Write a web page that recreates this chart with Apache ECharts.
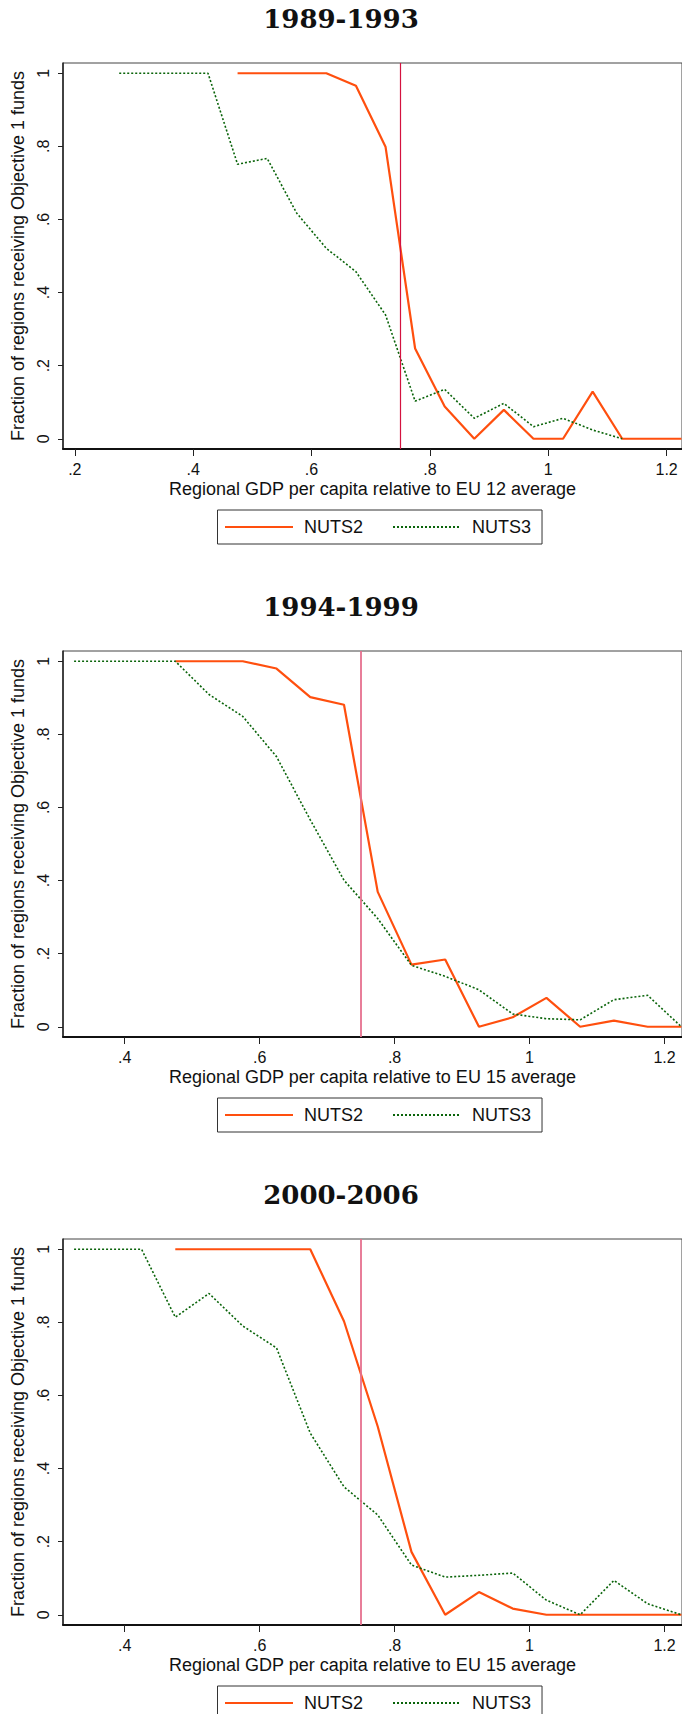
<!DOCTYPE html>
<html>
<head>
<meta charset="utf-8">
<script src="https://cdn.jsdelivr.net/npm/echarts@6/dist/echarts.min.js"></script>
<style>
html,body{margin:0;padding:0;background:#fff;}
#chart{width:682px;height:1714px;}
</style>
</head>
<body>
<div id="chart"></div>
<script>
// ---- data (bin midpoints of relative GDP per capita, share of regions receiving Objective 1 funds)
const panelTitles = ['1989-1993', '1994-1999', '2000-2006'];
const xTitles = [
  'Regional GDP per capita relative to EU 12 average',
  'Regional GDP per capita relative to EU 15 average',
  'Regional GDP per capita relative to EU 15 average'
];
const seriesNames = ['NUTS2', 'NUTS3'];

const nuts2X = [0.475,0.525,0.575,0.625,0.675,0.725,0.775,0.825,0.875,0.925,0.975,1.025,1.075,1.125,1.175,1.225];
const p1Nuts3X = [0.275,0.325,0.375,0.425,0.475,0.525,0.575,0.625,0.675,0.725,0.775,0.825,0.875,0.925,0.975,1.025,1.075,1.125];
const p23Nuts3X = [0.325,0.375,0.425,0.475,0.525,0.575,0.625,0.675,0.725,0.775,0.825,0.875,0.925,0.975,1.025,1.075,1.125,1.175,1.225];

const p1Nuts2 = [1,1,1,1,0.966,0.799,0.247,0.088,0,0.079,0,0,0.129,0,0,0];
const p1Nuts3 = [1,1,1,1,0.751,0.767,0.617,0.521,0.457,0.339,0.103,0.135,0.056,0.097,0.033,0.056,0.024,0];

const p2Nuts2 = [1,1,1,0.98,0.902,0.881,0.369,0.17,0.184,0,0.026,0.079,0,0.017,0,0];
const p2Nuts3 = [1,1,1,1,0.909,0.849,0.739,0.566,0.401,0.296,0.168,0.138,0.101,0.035,0.022,0.019,0.074,0.086,0];

const p3Nuts2 = [1,1,1,1,1,0.803,0.515,0.172,0,0.062,0.017,0,0,0,0,0];
const p3Nuts3 = [1,1,1,0.814,0.879,0.79,0.73,0.497,0.35,0.273,0.136,0.103,0.108,0.114,0.04,0,0.094,0.03,0];

const threshold = 0.75;
const yTicks = [0, 0.2, 0.4, 0.6, 0.8, 1];
const p1XTicks = [0.2, 0.4, 0.6, 0.8, 1, 1.2];
const p23XTicks = [0.4, 0.6, 0.8, 1, 1.2];

// ---- chart
const FONT = "'Liberation Sans', Arial, Helvetica, sans-serif";
const ORANGE = '#ff4f0e';
const GREEN = '#0a640a';
const fmt = v => {
  const r = Math.round(v * 10) / 10;
  if (r === 0) return '0';
  if (r === 1) return '1';
  let s = String(r);
  if (s.startsWith('0.')) s = s.slice(1);
  return s;
};
const zip = (xs, ys) => xs.map((x, i) => [x, ys[i]]);

const panels = [
  {xMin: 0.18, xMax: 1.226, xTicks: p1XTicks, n2: zip(nuts2X, p1Nuts2), n3: zip(p1Nuts3X, p1Nuts3), vColor: '#d4123f', vWidth: 1.2},
  {xMin: 0.3086, xMax: 1.2259, xTicks: p23XTicks, n2: zip(nuts2X, p2Nuts2), n3: zip(p23Nuts3X, p2Nuts3), vColor: '#e6708e', vWidth: 1.8},
  {xMin: 0.3086, xMax: 1.2259, xTicks: p23XTicks, n2: zip(nuts2X, p3Nuts2), n3: zip(p23Nuts3X, p3Nuts3), vColor: '#e6708e', vWidth: 1.8}
];

const PERIOD = 588;
const GRID_TOP = 63;
const GRID_H = 386;

const option = {
  animation: false,
  backgroundColor: '#fff',
  title: [], grid: [], xAxis: [], yAxis: [], legend: [], series: []
};

panels.forEach((p, i) => {
  const off = i * PERIOD;
  option.title.push({
    text: panelTitles[i],
    left: 'center',
    top: 6 + off,
    padding: [0, 0, 0, 20],
    textStyle: {fontFamily: "'DejaVu Serif', serif", fontWeight: 'bold', fontSize: 26, color: '#111'}
  });
  option.grid.push({
    left: 63, top: GRID_TOP + off, width: 620, height: GRID_H,
    show: true, borderColor: '#444', borderWidth: 1, containLabel: false
  });
  option.xAxis.push({
    type: 'value', gridIndex: i, min: p.xMin, max: p.xMax,
    name: xTitles[i], nameLocation: 'middle', nameGap: 31,
    nameTextStyle: {fontFamily: FONT, fontSize: 18, color: '#111'},
    axisLine: {show: true, onZero: false, lineStyle: {color: '#111', width: 2}},
    axisTick: {show: true, customValues: p.xTicks, length: 7, lineStyle: {color: '#222', width: 1}},
    axisLabel: {customValues: p.xTicks, formatter: fmt, fontFamily: FONT, fontSize: 16, color: '#111', margin: 12},
    splitLine: {show: false}
  });
  option.yAxis.push({
    type: 'value', gridIndex: i, min: -0.028, max: 1.028,
    name: 'Fraction of regions receiving Objective 1 funds', nameLocation: 'middle', nameGap: 32, nameRotate: 90,
    nameTextStyle: {fontFamily: FONT, fontSize: 18, color: '#111'},
    axisLine: {show: true, onZero: false, lineStyle: {color: '#222', width: 1.5}},
    axisTick: {show: true, customValues: yTicks, length: 5, lineStyle: {color: '#222', width: 1}},
    axisLabel: {customValues: yTicks, formatter: fmt, rotate: 90, fontFamily: FONT, fontSize: 16, color: '#111', margin: 12},
    splitLine: {show: false}
  });
  option.legend.push({
    data: seriesNames,
    left: 217.5, top: 510 + off,
    orient: 'horizontal',
    itemWidth: 68, itemHeight: 14, itemGap: 29,
    padding: [8, 11, 8, 6.5],
    borderColor: '#333', borderWidth: 1,
    selectedMode: false,
    itemStyle: {color: 'rgba(0,0,0,0)', borderWidth: 0, opacity: 0},
    textStyle: {fontFamily: FONT, fontSize: 18, color: '#111', padding: [0, 0, 0, 6]}
  });
  option.series.push({
    name: 'NUTS2', type: 'line', xAxisIndex: i, yAxisIndex: i,
    data: p.n2, symbol: 'none', z: 3,
    lineStyle: {color: ORANGE, width: 2.2, type: 'solid'},
    itemStyle: {color: ORANGE},
    markLine: {
      silent: true, symbol: 'none', label: {show: false},
      lineStyle: {color: p.vColor, width: p.vWidth, type: 'solid'},
      data: [{xAxis: threshold}]
    }
  });
  option.series.push({
    name: 'NUTS3', type: 'line', xAxisIndex: i, yAxisIndex: i,
    data: p.n3, symbol: 'none', z: 4,
    lineStyle: {color: GREEN, width: 1.6, type: [2, 2]},
    itemStyle: {color: GREEN}
  });
});

const chart = echarts.init(document.getElementById('chart'), null, {renderer: 'svg', width: 682, height: 1714});
chart.setOption(option);
</script>
</body>
</html>
